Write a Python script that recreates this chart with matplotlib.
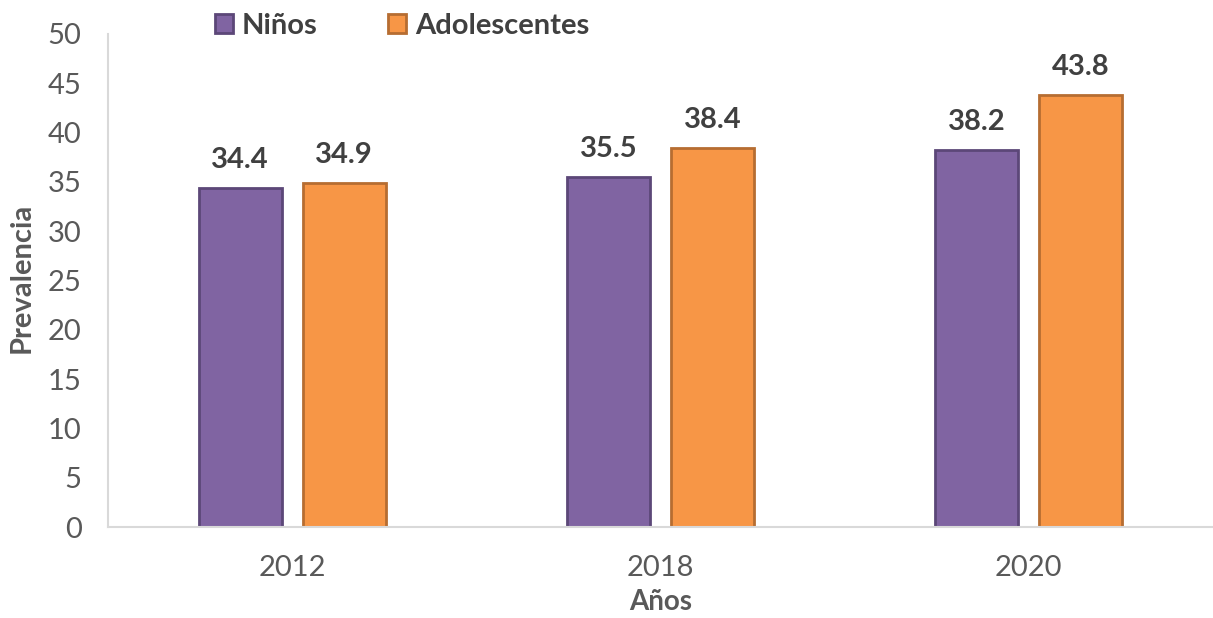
import matplotlib
matplotlib.use("Agg")
import matplotlib.pyplot as plt
import numpy as np
from matplotlib.patches import Patch

plt.rcParams['font.family'] = ['Lato', 'DejaVu Sans']

anios = ["2012", "2018", "2020"]
ninos = [34.4, 35.5, 38.2]
adolescentes = [34.9, 38.4, 43.8]

color_ninos = "#8064a2"
borde_ninos = "#5c4778"
color_adol = "#f79646"
borde_adol = "#b66d31"
gris_texto = "#595959"
gris_oscuro = "#404040"

fig = plt.figure(figsize=(12.13, 6.18), dpi=100)
ax = fig.add_axes([108 / 1213, 91 / 618, 1105 / 1213, 493 / 618])

x = np.arange(len(anios))
ancho = 0.225
desp = 0.141

b1 = ax.bar(x - desp, ninos, ancho, color=color_ninos, edgecolor=borde_ninos, linewidth=2)
b2 = ax.bar(x + desp, adolescentes, ancho, color=color_adol, edgecolor=borde_adol, linewidth=2)

# etiquetas de valor sobre cada barra
for barras, valores in ((b1, ninos), (b2, adolescentes)):
    for barra, v in zip(barras, valores):
        ax.annotate(f"{v:.1f}", (barra.get_x() + barra.get_width() / 2, v),
                    xytext=(0, 11), textcoords="offset points",
                    ha="center", va="bottom", fontsize=21, fontweight="bold",
                    color=gris_oscuro)

ax.set_xlim(-0.5, 2.5)
ax.set_ylim(0, 50)
ax.set_yticks(np.arange(0, 51, 5))
ax.set_xticks(x)
ax.set_xticklabels(anios)
ax.tick_params(length=0, colors=gris_texto)
ax.tick_params(axis="y", labelsize=21, pad=19)
ax.tick_params(axis="x", labelsize=21, pad=20)

for lado in ("top", "right"):
    ax.spines[lado].set_visible(False)
for lado in ("left", "bottom"):
    ax.spines[lado].set_color("#d9d9d9")
    ax.spines[lado].set_linewidth(1.5)

fig.text(22 / 1213, 1 - 278 / 618, "Prevalencia", rotation=90, ha="center", va="center",
         fontsize=21, fontweight="bold", color=gris_texto)
ax.set_xlabel("Años", fontsize=20, fontweight="bold", color=gris_texto, labelpad=6)

handles = [Patch(facecolor=color_ninos, edgecolor=borde_ninos, linewidth=2, label="Niños"),
           Patch(facecolor=color_adol, edgecolor=borde_adol, linewidth=2, label="Adolescentes")]
leg = fig.legend(handles=handles, loc="center left", bbox_to_anchor=(189 / 1213, 1 - 26 / 618),
                 ncol=2, frameon=False, handlelength=0.62, handleheight=0.62, handletextpad=0.3,
                 columnspacing=2.4, prop={"size": 21, "weight": "bold"})
for t in leg.get_texts():
    t.set_color(gris_oscuro)

fig.savefig("out.png", dpi=100)
